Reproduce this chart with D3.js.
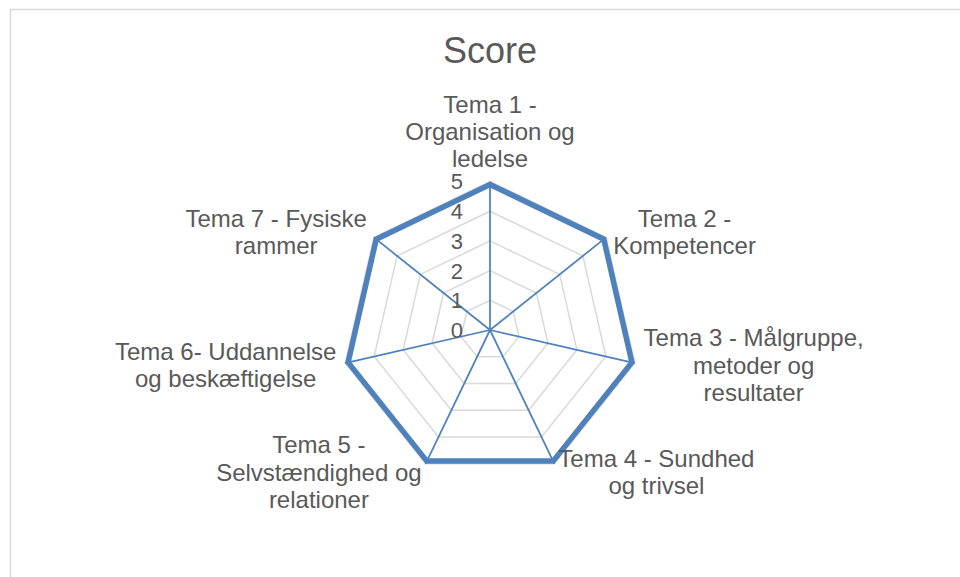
<!DOCTYPE html>
<html>
<head>
<meta charset="utf-8">
<script src="https://cdn.jsdelivr.net/npm/d3@7"></script>
<style>
  body { margin: 0; background: #fff; }
  text { font-family: "Liberation Sans", Arial, sans-serif; fill: #595959; }
</style>
</head>
<body>
<div id="chart"></div>
<script>
// chart data
var categories = [
    "Tema 1 -\nOrganisation og\nledelse",
    "Tema 2 -\nKompetencer",
    "Tema 3 - Målgruppe,\nmetoder og\nresultater",
    "Tema 4 - Sundhed\nog trivsel",
    "Tema 5 -\nSelvstændighed og\nrelationer",
    "Tema 6- Uddannelse\nog beskæftigelse",
    "Tema 7 - Fysiske\nrammer"
];
var scores = [4.9, 4.9, 4.9, 4.9, 4.9, 4.9, 4.9];
var ticks = [0, 1, 2, 3, 4, 5];
var title = "Score";

var w = 960;
var h = 577;
var cx = 490, cy = 330;
var radius = 148.5;
var blue = "#4f81bd";
var grey = "#d9d9d9";

var svg = d3.select("#chart")
    .append("svg")
    .attr("width", w)
    .attr("height", h);

// chart area border
svg.append("rect")
    .attr("x", 10.5)
    .attr("y", 9.5)
    .attr("width", 1000)
    .attr("height", 1000)
    .attr("fill", "none")
    .attr("stroke", grey)
    .attr("stroke-width", 1.5);

svg.append("text")
    .attr("x", cx)
    .attr("y", 63)
    .attr("text-anchor", "middle")
    .style("font-size", "36px")
    .text(title);

var rScale = d3.scaleLinear()
    .domain([0, d3.max(ticks)])
    .range([0, radius]);

var angle = d3.scalePoint()
    .domain(d3.range(categories.length))
    .range([0, 2 * Math.PI * (categories.length - 1) / categories.length]);

function pt(i, v) {
    var a = angle(i);
    return [cx + rScale(v) * Math.sin(a), cy - rScale(v) * Math.cos(a)];
}

var g = svg.append("g");

// grid rings
g.selectAll(".ring")
    .data(ticks.filter(function (t) { return t > 0; }))
    .enter()
    .append("polygon")
    .attr("class", "ring")
    .attr("points", function (t) {
        return categories.map(function (c, i) { return pt(i, t).join(","); }).join(" ");
    })
    .attr("fill", "none")
    .attr("stroke", grey)
    .attr("stroke-width", 1.5);

// spokes
g.selectAll(".spoke")
    .data(categories)
    .enter()
    .append("line")
    .attr("class", "spoke")
    .attr("x1", cx)
    .attr("y1", cy)
    .attr("x2", function (d, i) { return pt(i, d3.max(ticks))[0]; })
    .attr("y2", function (d, i) { return pt(i, d3.max(ticks))[1]; })
    .attr("stroke", blue)
    .attr("stroke-width", 1.75);

// series line
var line = d3.line().curve(d3.curveLinearClosed);
g.append("path")
    .attr("d", line(scores.map(function (v, i) { return pt(i, v); })))
    .attr("fill", "none")
    .attr("stroke", blue)
    .attr("stroke-width", 5.5)
    .attr("stroke-linejoin", "miter");

// tick labels
g.selectAll(".tick")
    .data(ticks)
    .enter()
    .append("text")
    .attr("class", "tick")
    .attr("x", cx - 27)
    .attr("y", function (t) { return cy - rScale(t); })
    .attr("dy", "0.36em")
    .attr("text-anchor", "end")
    .style("font-size", "22px")
    .text(function (t) { return t; });

// category labels
var lh = 27.3;
categories.forEach(function (c, i) {
    var lines = c.split("\n");
    var a = angle(i);
    var s = Math.sin(a), co = Math.cos(a);
    var p = pt(i, d3.max(ticks));
    var gap = 9;
    var t = g.append("text")
        .attr("text-anchor", "middle")
        .style("font-size", "24px");
    lines.forEach(function (l) {
        t.append("tspan").text(l);
    });
    var bw = d3.max(t.selectAll("tspan").nodes(), function (n) { return n.getComputedTextLength(); });
    var bh = lines.length * lh;
    var x = p[0] + gap * s;
    var y = p[1] - gap * co;
    if (Math.abs(s) < 0.1) {
        y -= co * bh / 2;
    } else {
        x += (s > 0 ? 1 : -1) * bw / 2;
    }
    t.selectAll("tspan")
        .attr("x", x)
        .attr("y", function (d, j) { return y + (j - (lines.length - 1) / 2) * lh; })
        .attr("dy", "0.36em");
});
</script>
</body>
</html>
